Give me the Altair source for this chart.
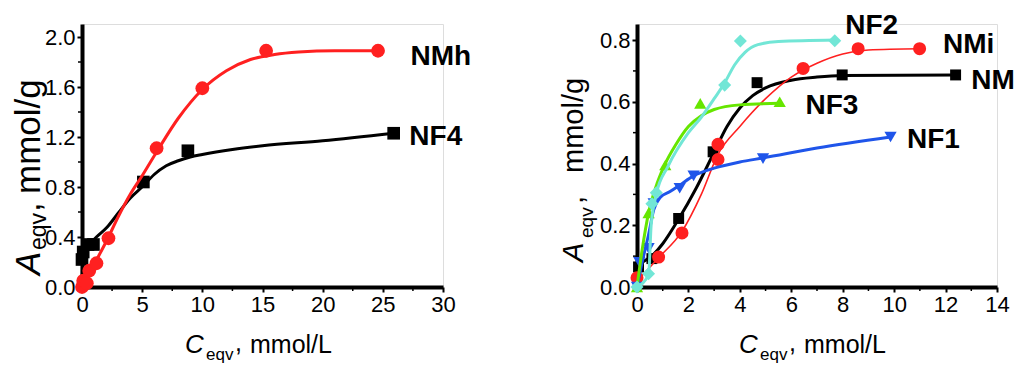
import altair as alt
import pandas as pd

FONT = "Liberation Sans"

# ---------------- Left panel data ----------------
nmh_x = [0, 0.1, 0.4, 0.6, 1.2, 2.2, 6.2, 10.0, 15.3, 24.6]
nmh_y = [0, 0.05, 0.03, 0.13, 0.19, 0.39, 1.11, 1.59, 1.89, 1.89]
nmh_cx = [0, 1.0, 2.1, 3.0, 4.0, 5.0, 6.2, 8.0, 10.0, 12.0, 14.0, 16.0, 18.0, 21.0, 24.6]
nmh_cy = [0, 0.18, 0.38, 0.56, 0.74, 0.89, 1.08, 1.35, 1.58, 1.73, 1.82, 1.86, 1.88, 1.89, 1.89]

nf4_x = [0, 0.1, 0.5, 0.95, 5.1, 8.8, 25.9]
nf4_y = [0.22, 0.28, 0.34, 0.34, 0.84, 1.09, 1.23]
nf4_cx = [0, 0.05, 0.2, 0.6, 1.2, 2.1, 3.0, 4.0, 5.1, 6.0, 7.0, 8.0, 9.0, 10.0, 12.5, 15.0, 20.0, 25.9]
nf4_cy = [0, 0.2, 0.3, 0.34, 0.4, 0.48, 0.59, 0.71, 0.81, 0.9, 0.97, 1.01, 1.04, 1.06, 1.1, 1.13, 1.17, 1.23]

# ---------------- Right panel data ----------------
nf2_x = [0, 0.45, 0.58, 0.75, 3.41, 4.02, 7.69]
nf2_y = [0, 0.043, 0.27, 0.305, 0.654, 0.797, 0.798]
nf2_cx = [0, 0.45, 0.55, 0.75, 1.2, 2.0, 2.5, 3.0, 3.4, 3.8, 4.2, 4.7, 5.5, 7.7]
nf2_cy = [0, 0.04, 0.2, 0.3, 0.39, 0.5, 0.55, 0.61, 0.66, 0.72, 0.76, 0.785, 0.795, 0.8]

nf3_x = [0, 0.45, 1.1, 2.46, 5.55]
nf3_y = [0, 0.24, 0.395, 0.595, 0.6]
nf3_cx = [0, 0.2, 0.45, 0.8, 1.1, 1.5, 2.0, 2.5, 3.0, 4.0, 5.55]
nf3_cy = [0, 0.12, 0.24, 0.34, 0.4, 0.46, 0.52, 0.555, 0.575, 0.59, 0.595]

nf1_x = [0, 0.09, 0.45, 0.65, 1.66, 2.2, 4.9, 9.86]
nf1_y = [0, 0.08, 0.125, 0.27, 0.32, 0.36, 0.416, 0.486]
nf1_cx = [0, 0.2, 0.45, 0.65, 0.9, 1.3, 1.66, 2.2, 3.0, 4.0, 4.9, 7.0, 9.86]
nf1_cy = [0, 0.08, 0.17, 0.25, 0.29, 0.31, 0.33, 0.36, 0.385, 0.405, 0.418, 0.45, 0.486]

nm_x = [0.06, 0.58, 1.62, 2.96, 4.67, 7.98, 12.39]
nm_y = [0.065, 0.092, 0.222, 0.438, 0.662, 0.687, 0.687]
nm_cx = [0, 0.1, 0.58, 1.0, 1.62, 2.3, 2.96, 3.5, 4.0, 4.5, 5.0, 6.0, 7.0, 8.0, 12.4]
nm_cy = [0, 0.07, 0.1, 0.14, 0.22, 0.32, 0.43, 0.52, 0.58, 0.62, 0.645, 0.67, 0.68, 0.685, 0.687]

nmi_x = [0, 0.84, 1.75, 3.15, 3.15, 6.46, 8.6, 10.99]
nmi_y = [0.03, 0.097, 0.175, 0.413, 0.462, 0.708, 0.772, 0.772]
nmi_cx = [0, 0.84, 1.75, 2.5, 3.15, 4.0, 5.0, 6.0, 7.0, 8.0, 9.0, 11.0]
nmi_cy = [0.02, 0.095, 0.18, 0.3, 0.43, 0.52, 0.61, 0.68, 0.725, 0.755, 0.768, 0.772]

# labels: name, x, y (data coords of the text baseline start)
left_labels = [("NMh", 27.3, 1.78), ("NF4", 27.2, 1.14)]
right_labels = [("NF2", 8.1, 0.818), ("NMi", 11.9, 0.757), ("NM", 13.0, 0.64),
                ("NF3", 6.55, 0.56), ("NF1", 10.5, 0.45)]

left_ticks_x = [0, 5, 10, 15, 20, 25, 30]
left_ticks_y = [0.0, 0.4, 0.8, 1.2, 1.6, 2.0]
left_minor_x = [2.5, 7.5, 12.5, 17.5, 22.5, 27.5]
left_minor_y = [0.2, 0.6, 1.0, 1.4, 1.8]
right_ticks_x = [0, 2, 4, 6, 8, 10, 12, 14]
right_ticks_y = [0.0, 0.2, 0.4, 0.6, 0.8]
right_minor_x = [1, 3, 5, 7, 9, 11, 13]
right_minor_y = [0.1, 0.3, 0.5, 0.7]

# style per series
STYLE = {
    "NMh": dict(color="#ff2020", shape="circle", size=190, sw=3.0),
    "NF4": dict(color="#000000", shape="square", size=160, sw=3.0),
    "NF2": dict(color="#72e6d6", shape="diamond", size=170, sw=3.0),
    "NF3": dict(color="#66e600", shape="triangle-up", size=150, sw=3.0),
    "NF1": dict(color="#1f55ea", shape="triangle-down", size=150, sw=3.0),
    "NM": dict(color="#000000", shape="square", size=120, sw=3.0),
    "NMi": dict(color="#ff2020", shape="circle", size=170, sw=1.6),
}

H = 263


def series_layers(name, px, py, cx, cy, xs, ys):
    st = STYLE[name]
    curve = pd.DataFrame({"x": cx, "y": cy})
    pts = pd.DataFrame({"x": px, "y": py})
    line = alt.Chart(curve).mark_line(
        color=st["color"], strokeWidth=st["sw"], interpolate="monotone", clip=False
    ).encode(x=alt.X("x:Q", scale=xs), y=alt.Y("y:Q", scale=ys))
    points = alt.Chart(pts).mark_point(
        color=st["color"], filled=True, opacity=1, shape=st["shape"], size=st["size"], clip=False
    ).encode(x=alt.X("x:Q", scale=xs), y=alt.Y("y:Q", scale=ys))
    return [line, points]


def minor_ticks(mx, my, xs, ys):
    tx = alt.Chart(pd.DataFrame({"x": mx})).mark_rule(color="black", strokeWidth=1.5).encode(
        x=alt.X("x:Q", scale=xs), y=alt.value(H), y2=alt.value(H + 4))
    ty = alt.Chart(pd.DataFrame({"y": my})).mark_rule(color="black", strokeWidth=1.5).encode(
        y=alt.Y("y:Q", scale=ys), x=alt.value(0), x2=alt.value(-4))
    return [tx, ty]


def txt(text, x, y, size, italic=False, bold=False, angle=0):
    return alt.Chart(pd.DataFrame({"t": [text]})).mark_text(
        text=text, font=FONT, fontSize=size, fontStyle="italic" if italic else "normal",
        fontWeight="bold" if bold else "normal", align="left", baseline="alphabetic",
        angle=angle, color="black",
    ).encode(x=alt.value(x), y=alt.value(y))


def axis(values, fmt):
    return alt.Axis(values=values, format=fmt, title=None, grid=False,
                    labelFont=FONT, labelFontSize=22, labelColor="black",
                    domainColor="black", domainWidth=4, tickColor="black",
                    tickWidth=2, tickSize=5, labelPadding=2, labelFlush=False,
                    labelOverlap=False)


# ---------------- Left panel ----------------
lxs = alt.Scale(domain=[0, 30], nice=False, zero=False)
lys = alt.Scale(domain=[0, 2.104], nice=False, zero=False)

left_axes = alt.Chart(pd.DataFrame({"x": [0], "y": [0]})).mark_point(opacity=0).encode(
    x=alt.X("x:Q", scale=lxs, axis=axis(left_ticks_x, "d")),
    y=alt.Y("y:Q", scale=lys, axis=axis(left_ticks_y, ".1f")),
)
left_layers = [left_axes] + minor_ticks(left_minor_x, left_minor_y, lxs, lys)
left_layers += series_layers("NF4", nf4_x, nf4_y, nf4_cx, nf4_cy, lxs, lys)
left_layers += series_layers("NMh", nmh_x, nmh_y, nmh_cx, nmh_cy, lxs, lys)
ll = pd.DataFrame(left_labels, columns=["name", "x", "y"])
left_layers.append(alt.Chart(ll).mark_text(
    font=FONT, fontSize=28, fontWeight="bold", align="left", baseline="alphabetic", color="black"
).encode(x=alt.X("x:Q", scale=lxs), y=alt.Y("y:Q", scale=lys), text="name:N"))
# axis titles (composed, with subscript)
left_layers += [
    txt("C", 103, 329, 26, italic=True),
    txt("eqv", 124, 336, 17),
    txt(",", 153, 327, 25),
    txt("mmol/L", 168, 329, 25),
    txt("A", -42, 251, 35, italic=True, angle=270),
    txt("eqv", -36, 226, 23, angle=270),
    txt(",", -42, 188, 35, angle=270),
    txt("mmol/g", -42, 170, 35, angle=270),
]
left = alt.layer(*left_layers).properties(width=361, height=H)

# ---------------- Right panel ----------------
rxs = alt.Scale(domain=[0, 14], nice=False, zero=False)
rys = alt.Scale(domain=[0, 0.852], nice=False, zero=False)

right_axes = alt.Chart(pd.DataFrame({"x": [0], "y": [0]})).mark_point(opacity=0).encode(
    x=alt.X("x:Q", scale=rxs, axis=axis(right_ticks_x, "d")),
    y=alt.Y("y:Q", scale=rys, axis=axis(right_ticks_y, ".1f")),
)
right_layers = [right_axes] + minor_ticks(right_minor_x, right_minor_y, rxs, rys)
right_layers += series_layers("NM", nm_x, nm_y, nm_cx, nm_cy, rxs, rys)
right_layers += series_layers("NMi", nmi_x, nmi_y, nmi_cx, nmi_cy, rxs, rys)
right_layers += series_layers("NF1", nf1_x, nf1_y, nf1_cx, nf1_cy, rxs, rys)
right_layers += series_layers("NF3", nf3_x, nf3_y, nf3_cx, nf3_cy, rxs, rys)
right_layers += series_layers("NF2", nf2_x, nf2_y, nf2_cx, nf2_cy, rxs, rys)
rl = pd.DataFrame(right_labels, columns=["name", "x", "y"])
right_layers.append(alt.Chart(rl).mark_text(
    font=FONT, fontSize=28, fontWeight="bold", align="left", baseline="alphabetic", color="black"
).encode(x=alt.X("x:Q", scale=rxs), y=alt.Y("y:Q", scale=rys), text="name:N"))
right_layers += [
    txt("C", 102, 329, 26, italic=True),
    txt("eqv", 123, 336, 17),
    txt(",", 152, 327, 25),
    txt("mmol/L", 167, 329, 25),
    txt("A", -54, 238, 29, italic=True, angle=270),
    txt("eqv", -44, 214, 19, angle=270),
    txt(",", -54, 180, 29, angle=270),
    txt("mmol/g", -54, 149, 29, angle=270),
]
right = alt.layer(*right_layers).properties(width=360, height=H)

chart = alt.hconcat(left, right, spacing=194, bounds="flush").properties(
    padding={"left": 3, "top": 3, "right": 0, "bottom": 0}
).configure_view(stroke=None).configure(background="white")

chart.save("out.html", embed_options={"renderer": "svg", "actions": False})
